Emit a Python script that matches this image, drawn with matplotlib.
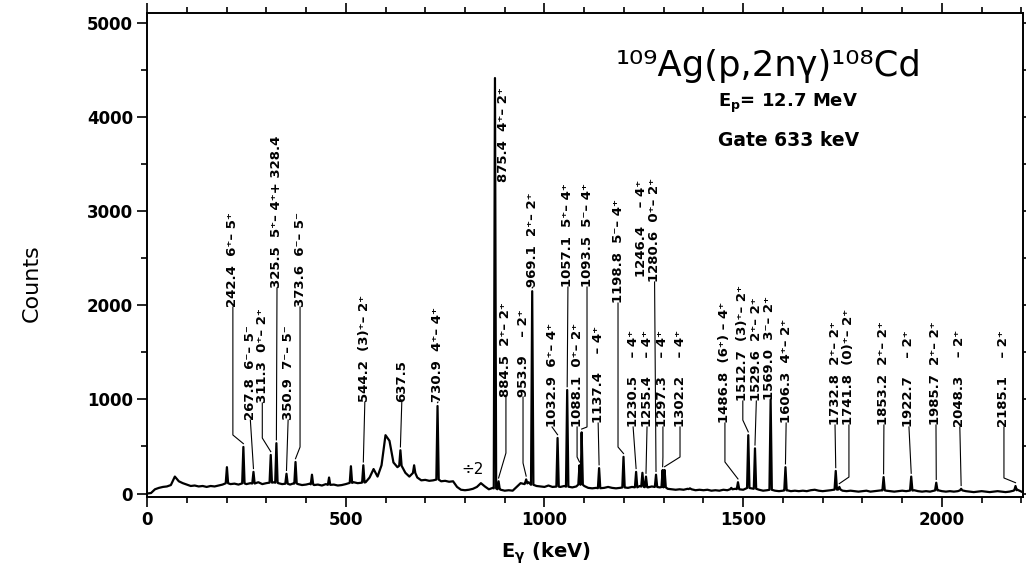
import matplotlib
matplotlib.use("Agg")
import matplotlib.pyplot as plt
from matplotlib.ticker import MultipleLocator
import numpy as np

plt.rcParams["font.family"] = ["DejaVu Sans"]
plt.rcParams["mathtext.fontset"] = "custom"
plt.rcParams["mathtext.rm"] = "DejaVu Sans:bold"
plt.rcParams["mathtext.default"] = "rm"

# background of the gated spectrum, read every 10 keV (0 .. 2200 keV)
bg_counts = [
    0, 5, 45, 60, 70, 75, 90, 180, 130, 110,
    95, 80, 85, 75, 80, 70, 80, 75, 85, 95,
    110, 100, 105, 95, 110, 100, 110, 105, 120, 100,
    110, 115, 120, 110, 100, 105, 95, 110, 100, 90,
    95, 105, 90, 95, 85, 100, 90, 95, 85, 90,
    100, 110, 120, 110, 115, 120, 170, 260, 180, 300,
    620, 560, 330, 280, 300, 220, 180, 230, 170, 140,
    145, 135, 140, 150, 130, 135, 125, 130, 70, 40,
    35, 40, 50, 70, 110, 75, 45, 60, 50, 40,
    30, 35, 30, 70, 110, 100, 120, 90, 80, 75,
    70, 85, 70, 75, 70, 80, 70, 65, 75, 100,
    80, 60, 55, 60, 55, 60, 70, 60, 55, 60,
    65, 60, 70, 65, 80, 70, 65, 75, 70, 65,
    70, 50, 45, 40, 45, 40, 50, 45, 35, 40,
    35, 40, 30, 35, 30, 40, 35, 45, 50, 45,
    40, 60, 55, 50, 40, 30, 35, 40, 30, 25,
    30, 35, 25, 30, 25, 30, 25, 35, 40, 30,
    25, 30, 35, 40, 45, 30, 25, 30, 25, 20,
    25, 30, 20, 25, 30, 35, 30, 25, 20, 25,
    30, 25, 30, 35, 25, 20, 25, 20, 30, 35,
    25, 20, 25, 20, 25, 35, 25, 20, 15, 20,
    25, 20, 15, 20, 25, 20, 15, 20, 30, 40,
    20,
]
bg_energy = np.arange(len(bg_counts)) * 10.0

# peaks (keV) and their heights (counts)
peak_energy = [201, 242.4, 267.8, 311.3, 325.5, 350.9, 373.6, 415, 458, 513,
               544.2, 637.5, 672, 730.9, 875.4, 884.5, 953.9, 969.1, 1032.9,
               1057.1, 1088.1, 1093.5, 1137.4, 1198.8, 1230.5, 1246.4, 1255.4,
               1280.6, 1297.3, 1302.2, 1366, 1470, 1486.8, 1512.7, 1529.6,
               1569.0, 1606.3, 1732.8, 1741.8, 1853.2, 1922.7, 1985.7, 2048.3,
               2185.1]
peak_counts = [280, 495, 230, 410, 535, 210, 335, 200, 170, 290,
               300, 460, 300, 930, 4415, 130, 150, 2150, 590,
               1100, 300, 650, 270, 390, 230, 220, 180,
               200, 250, 250, 55, 60, 120, 620, 480,
               1000, 280, 240, 70, 175, 180, 115, 50,
               80]

# labelled transitions
label_energy = [242.4, 267.8, 311.3, 325.5, 350.9, 373.6, 544.2, 637.5, 730.9,
                875.4, 884.5, 953.9, 969.1, 1032.9, 1057.1, 1088.1, 1093.5,
                1137.4, 1198.8, 1230.5, 1246.4, 1255.4, 1280.6, 1297.3, 1302.2,
                1486.8, 1512.7, 1529.6, 1569.0, 1606.3, 1732.8, 1741.8, 1853.2,
                1922.7, 1985.7, 2048.3, 2185.1]
label_text = [
    "242.4  6⁺– 5⁺", "267.8  6⁻– 5⁻", "311.3  0⁺– 2⁺", "325.5  5⁺– 4⁺+ 328.4",
    "350.9  7⁻– 5⁻", "373.6  6⁻– 5⁻", "544.2  (3)⁺– 2⁺", "637.5", "730.9  4⁺– 4⁺",
    "875.4  4⁺– 2⁺", "884.5  2⁺– 2⁺", "953.9    – 2⁺", "969.1  2⁺– 2⁺",
    "1032.9  6⁺– 4⁺", "1057.1  5⁺– 4⁺", "1088.1  0⁺– 2⁺", "1093.5  5⁻– 4⁺",
    "1137.4    – 4⁺", "1198.8  5⁻– 4⁺", "1230.5    – 4⁺", "1246.4    – 4⁺",
    "1255.4    – 4⁺", "1280.6  0⁺– 2⁺", "1297.3    – 4⁺", "1302.2    – 4⁺",
    "1486.8  (6⁺) – 4⁺", "1512.7  (3)⁺– 2⁺", "1529.6  2⁺– 2⁺", "1569.0  3⁻– 2⁺",
    "1606.3  4⁺– 2⁺", "1732.8  2⁺– 2⁺", "1741.8  (0)⁺– 2⁺", "1853.2  2⁺– 2⁺",
    "1922.7    – 2⁺", "1985.7  2⁺– 2⁺", "2048.3    – 2⁺", "2185.1    – 2⁺",
]

# label layout: text x (keV), text bottom (counts), leader bend (counts)
label_x = [216, 260, 290, 327, 355, 385, 548, 641, 732,
           896, 903, 946, 971, 1019, 1059, 1082, 1107,
           1135, 1185, 1223, 1243, 1258, 1277, 1298, 1341,
           1454, 1499, 1533, 1566, 1608, 1731, 1766, 1854,
           1917, 1985, 2045, 2156]
label_bottom = [1982, 781, 962, 2184, 781, 1982, 972, 972, 972,
                3310, 1026, 1026, 2194, 707, 2194, 707, 2194,
                749, 2024, 707, 2300, 707, 2248, 707, 707,
                749, 983, 983, 994, 749, 728, 728, 728,
                707, 728, 707, 707]
label_bend = [622, None, 590, None, None, 494, None, None, None,
              None, 430, 324, None, None, None, 388, 707,
              None, 494, None, "skip", None, None, 388, 388,
              335, 780, None, None, None, None, 175, None,
              None, None, None, 165]

# assemble the trace: background nodes plus narrow peak shapes
half_w = 3.0
bases = np.interp(peak_energy, bg_energy, bg_counts)
pts = []
for e, c in zip(bg_energy, bg_counts):
    if all(abs(e - p) > half_w for p in peak_energy):
        pts.append((e, c))
for p, h, b in zip(peak_energy, peak_counts, bases):
    pts += [(p - half_w, b), (p, h), (p + half_w, b)]
pts.sort()
trace_e = [q[0] for q in pts]
trace_c = [q[1] for q in pts]

fig = plt.figure(figsize=(10.26, 5.71), dpi=100)
ax = fig.add_axes([0.1433, 0.1296, 0.8538, 0.8476])
ax.plot(trace_e, trace_c, color="black", lw=1.6, solid_joinstyle="round")

ax.set_xlim(0, 2204)
ax.set_ylim(-37, 5106)

# labels with leader lines
gap = 35
for e, txt, lx, lb, bend in zip(label_energy, label_text, label_x, label_bottom, label_bend):
    ax.text(lx, lb, txt, rotation=90, ha="center", va="bottom",
            fontsize=9.5, fontweight="bold", linespacing=1.0)
    ph = peak_counts[peak_energy.index(e)]
    if bend == "skip" or lb <= ph + gap:
        continue
    if bend is None:
        xs, ys = [lx, e], [lb, ph + gap]
    else:
        xs, ys = [lx, lx, e], [lb, bend, ph + gap]
    ax.plot(xs, ys, color="black", lw=0.8)

ax.text(820, 250, "÷2", fontsize=11, ha="center", va="center")

# axes styling
for s in ax.spines.values():
    s.set_linewidth(1.4)
ax.xaxis.set_major_locator(MultipleLocator(500))
ax.xaxis.set_minor_locator(MultipleLocator(100))
ax.yaxis.set_major_locator(MultipleLocator(1000))
ax.yaxis.set_minor_locator(MultipleLocator(500))
ax.tick_params(which="both", direction="out", top=True, right=True, width=1.2)
ax.tick_params(which="major", length=7)
ax.tick_params(which="minor", length=4)
ax.tick_params(labeltop=False, labelright=False, labelsize=12, pad=3)
for lab in ax.get_xticklabels() + ax.get_yticklabels():
    lab.set_fontweight("bold")

fig.text(32 / 1026, 1 - 283 / 571, "Counts", rotation=90, ha="center", va="center",
         fontsize=16)
fig.text(546 / 1026, 1 - 553 / 571, r"E$_{\mathrm{γ}}$ (keV)", ha="center", va="center",
         fontsize=14, fontweight="bold")

fig.text(769 / 1026, 1 - 66 / 571, "¹⁰⁹Ag(p,2nγ)¹⁰⁸Cd", ha="center", va="center",
         fontsize=25.5)
fig.text(788 / 1026, 1 - 103 / 571, r"E$_{\mathrm{p}}$= 12.7 MeV", ha="center", va="center",
         fontsize=13, fontweight="bold")
fig.text(789 / 1026, 1 - 140 / 571, "Gate 633 keV", ha="center", va="center",
         fontsize=13.5, fontweight="bold")

fig.savefig("out.png", dpi=100)
